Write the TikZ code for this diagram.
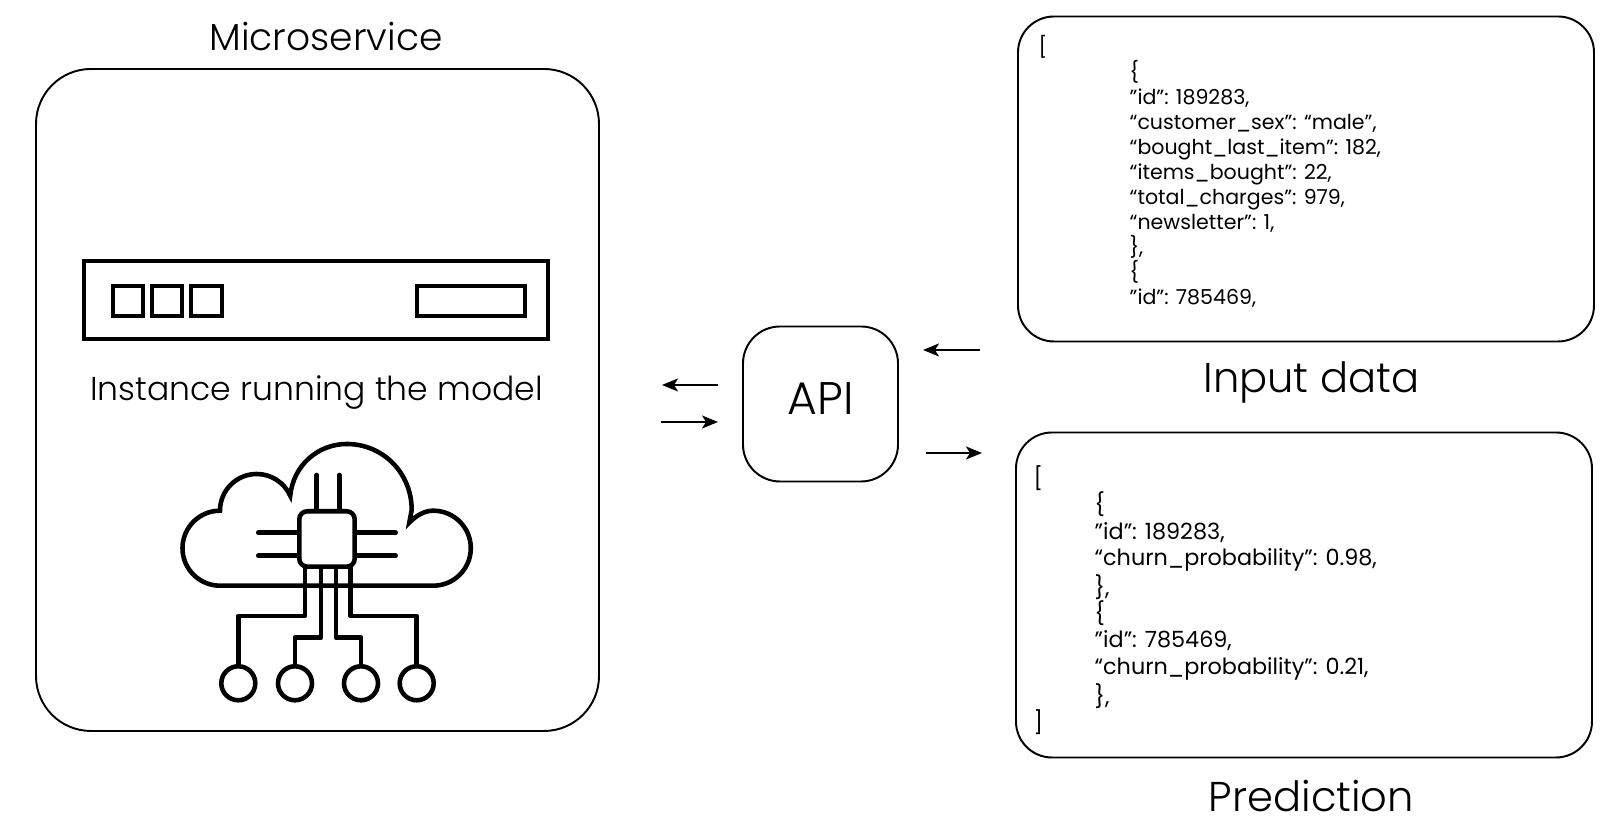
\documentclass[tikz,border=0pt]{standalone}
\usepackage{fontspec}
\setmainfont{Poppins}[UprightFont=* Light]
\newfontfamily\jsonfont{Poppins}
\usetikzlibrary{arrows.meta}
\usetikzlibrary{positioning}

\begin{document}
\begin{tikzpicture}[
  > = {Stealth[length=0.16cm,width=0.13cm,inset=0.04cm]},
  panel/.style = {draw,line width=0.55pt,rounded corners=0.55cm,inner sep=0pt},
  jsonbox/.style = {panel,rounded corners=0.36cm,minimum width=5.76cm,minimum height=3.25cm},
  jsontext/.style = {anchor=north west,align=left,inner sep=0pt,font=\jsonfont\fontsize{5.85pt}{7.1pt}\selectfont},
  title/.style = {inner sep=0pt,font=\fontsize{10.7pt}{13pt}\selectfont},
  bigtitle/.style = {inner sep=0pt,font=\fontsize{11.85pt}{14pt}\selectfont},
  flow/.style = {->,line width=0.5pt},
  icon/.style = {line width=1.3pt,line cap=round,line join=round},
  slot/.style = {line width=0.95pt},
  pad/.style = {draw,circle,line width=1.3pt,minimum size=0.34cm,inner sep=0pt}
  ]
  \useasboundingbox (0,0) rectangle (16.21,8.32);

  % microservice
  \node[panel,minimum width=5.63cm,minimum height=6.62cm] (micro) at (3.175,4.32) {};
  \node[title] (microname) at (3.26,7.95) {Microservice};

  \draw[slot] (0.84,5.71) rectangle (5.48,4.93);
  \draw[slot] (1.13,5.46) rectangle (1.43,5.16);
  \draw[slot] (1.52,5.46) rectangle (1.82,5.16);
  \draw[slot] (1.91,5.46) rectangle (2.22,5.16);
  \draw[slot] (4.17,5.46) rectangle (5.25,5.16);
  \node[title,font=\fontsize{9.4pt}{11pt}\selectfont] (instance) at (3.165,4.39) {Instance running the model};

  % cloud
  \draw[line width=1.3pt,line join=miter] (2.2,2.463) arc (-90:-270:0.375)
    arc (180:24:0.367)
    .. controls (2.933,3.67) and (3.183,3.88) .. (3.467,3.88)
    .. controls (3.833,3.88) and (4.117,3.587) .. (4.117,3.22)
    -- (4.093,3.093)
    .. controls (4.167,3.17) and (4.25,3.213) .. (4.333,3.213)
    arc (90:-90:0.375) -- cycle;

  % chip
  \draw[fill=white,line width=1.3pt,rounded corners=0.08cm] (2.993,3.207) rectangle (3.547,2.653);
  \draw[icon] (3.167,3.22) -- (3.167,3.57);
  \draw[icon] (3.393,3.22) -- (3.393,3.57);
  \draw[icon] (2.98,2.993) -- (2.583,2.993);
  \draw[icon] (2.98,2.763) -- (2.583,2.763);
  \draw[icon] (3.56,2.993) -- (3.957,2.993);
  \draw[icon] (3.56,2.763) -- (3.957,2.763);

  % wires
  \node[pad] (pad1) at (2.383,1.487) {};
  \node[pad] (pad2) at (2.95,1.487) {};
  \node[pad] (pad3) at (3.61,1.487) {};
  \node[pad] (pad4) at (4.167,1.487) {};
  \draw[icon] (3.05,2.64) |- (2.383,2.16) -- (pad1);
  \draw[icon] (3.21,2.64) |- (2.95,1.943) -- (pad2);
  \draw[icon] (3.36,2.64) |- (3.61,1.943) -- (pad3);
  \draw[icon] (3.507,2.64) |- (4.167,2.16) -- (pad4);

  % api
  \node[panel,rounded corners=0.37cm,minimum size=1.55cm] (api) at (8.205,4.28) {};
  \node[inner sep=0pt,font=\fontsize{13pt}{15pt}\selectfont] (apiname) at (8.205,4.33) {API};

  \coordinate (@1) at (7.18,4.47);
  \coordinate (@2) at (6.62,4.47);
  \coordinate (@3) at (6.61,4.10);
  \coordinate (@4) at (7.18,4.10);
  \coordinate (@5) at (9.80,4.82);
  \coordinate (@6) at (9.23,4.82);
  \coordinate (@7) at (9.26,3.79);
  \coordinate (@8) at (9.82,3.79);
  \draw[flow] (@1) to (@2);
  \draw[flow] (@3) to (@4);
  \draw[flow] (@5) to (@6);
  \draw[flow] (@7) to (@8);

  % json
  \node[jsonbox] (input) at (13.06,6.53) {};
  \node[bigtitle] (inputname) at (13.115,4.50) {Input data};
  \node[jsonbox] (pred) at (13.04,2.37) {};
  \node[bigtitle] (predname) at (13.115,0.36) {Prediction};

  \node[jsontext] (inputjson) at (10.38,7.97) {[\\
    \hspace*{0.91cm}\{\\
    \hspace*{0.91cm}”id”: 189283,\\
    \hspace*{0.91cm}“customer\_sex”: “male”,\\
    \hspace*{0.91cm}“bought\_last\_item”: 182,\\
    \hspace*{0.91cm}“items\_bought”: 22,\\
    \hspace*{0.91cm}“total\_charges”: 979,\\
    \hspace*{0.91cm}“newsletter”: 1,\\
    \hspace*{0.91cm}\},\\
    \hspace*{0.91cm}\{\\
    \hspace*{0.91cm}”id”: 785469,};
  \node[jsontext,font=\jsonfont\fontsize{6.35pt}{7.47pt}\selectfont] (predjson) at (10.33,3.67) {[\\
    \hspace*{0.61cm}\{\\
    \hspace*{0.61cm}”id”: 189283,\\
    \hspace*{0.61cm}“churn\_probability”: 0.98,\\
    \hspace*{0.61cm}\},\\
    \hspace*{0.61cm}\{\\
    \hspace*{0.61cm}”id”: 785469,\\
    \hspace*{0.61cm}“churn\_probability”: 0.21,\\
    \hspace*{0.61cm}\},\\
    ]};
\end{tikzpicture}
\end{document}
